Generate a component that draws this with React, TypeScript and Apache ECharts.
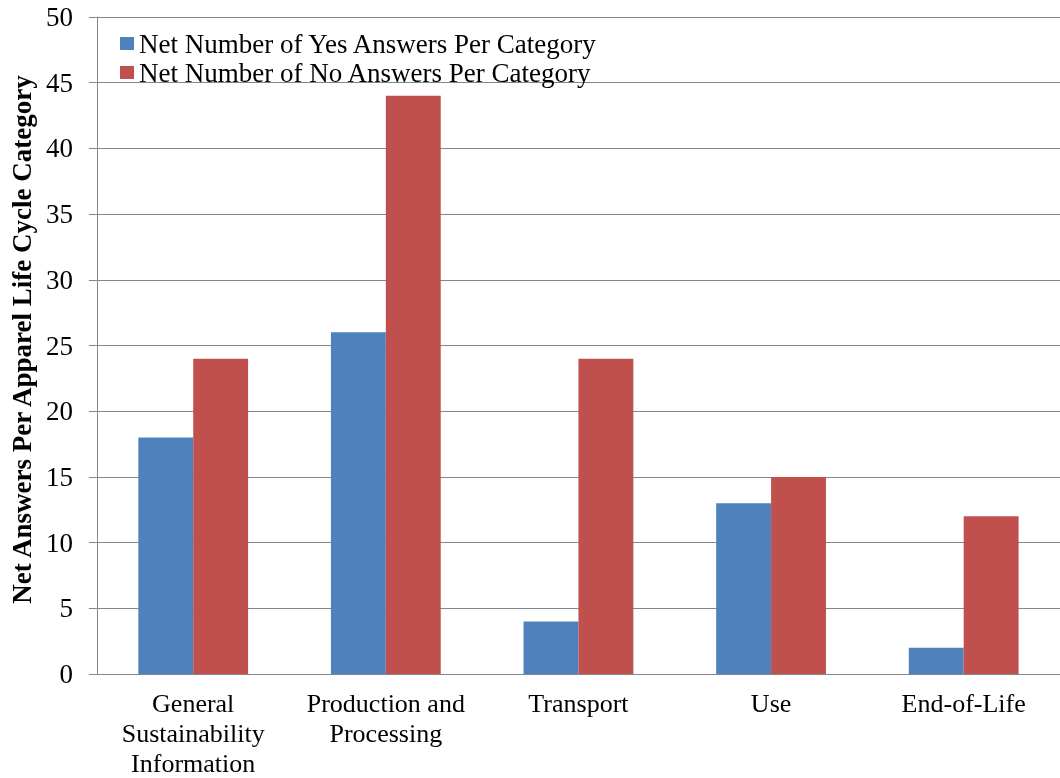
import React, { useEffect, useRef } from "react";
import * as echarts from "echarts";

const categories = [
  "General\nSustainability\nInformation",
  "Production and\nProcessing",
  "Transport",
  "Use",
  "End-of-Life",
];
const yesValues = [18, 26, 4, 13, 2];
const noValues = [24, 44, 24, 15, 12];
const yesName = "Net Number of Yes Answers Per Category";
const noName = "Net Number of No Answers Per Category";
const yAxisTitle = "Net Answers Per Apparel Life Cycle Category";

export default function App() {
  const ref = useRef<HTMLDivElement>(null);
  useEffect(() => {
    if (!ref.current) return;
    const chart = echarts.init(ref.current, undefined, { renderer: "svg" });
    const font = "Liberation Serif";
    chart.setOption({
      animation: false,
      textStyle: { fontFamily: font },
      grid: { left: 92, width: 973, top: 17, height: 658, containLabel: false },
      legend: {
        orient: "vertical",
        left: 115,
        top: 30,
        padding: [0, 0, 0, 5],
        itemWidth: 14,
        itemHeight: 13,
        itemGap: 2,
        icon: "rect",
        textStyle: { fontFamily: font, fontSize: 27, color: "#000" },
        data: [yesName, noName],
      },
      xAxis: {
        type: "category",
        data: categories,
        axisLine: { lineStyle: { color: "#868686", width: 1 } },
        axisTick: { length: 8, lineStyle: { color: "#868686" } },
        axisLabel: {
          fontFamily: font,
          fontSize: 26,
          color: "#000",
          lineHeight: 30,
          margin: 14,
          interval: 0,
        },
      },
      yAxis: {
        type: "value",
        min: 0,
        max: 50,
        interval: 5,
        name: yAxisTitle,
        nameLocation: "middle",
        nameGap: 58,
        nameTextStyle: {
          fontFamily: font,
          fontSize: 27,
          fontWeight: "bold",
          color: "#000",
          padding: [0, 0, 0, 12],
        },
        axisLine: { show: true, lineStyle: { color: "#868686", width: 1 } },
        axisTick: { show: true, length: 8, lineStyle: { color: "#868686" } },
        axisLabel: { fontFamily: font, fontSize: 27, color: "#000", margin: 24 },
        splitLine: { lineStyle: { color: "#868686", width: 1 } },
      },
      series: [
        {
          name: yesName,
          type: "bar",
          data: yesValues,
          barGap: "0%",
          barCategoryGap: "43%",
          itemStyle: { color: "#4F81BD" },
        },
        {
          name: noName,
          type: "bar",
          data: noValues,
          itemStyle: { color: "#C0504D" },
        },
      ],
    });
    return () => chart.dispose();
  }, []);
  return (
    <div
      ref={ref}
      style={{ position: "fixed", left: 0, top: 0, width: 1060, height: 778 }}
    />
  );
}
